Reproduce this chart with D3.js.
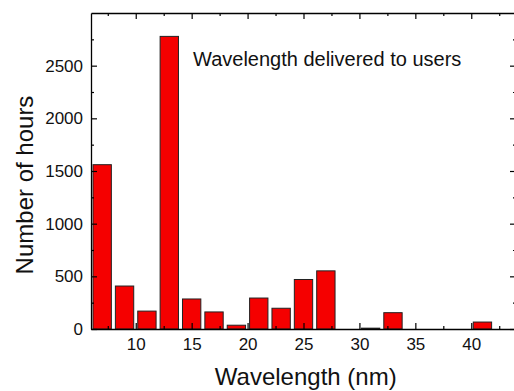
<!DOCTYPE html>
<html>
<head>
<meta charset="utf-8">
<script src="https://cdn.jsdelivr.net/npm/d3@7"></script>
<style>
  body { margin: 0; background: #fff; }
  svg { display: block; font-family: "Liberation Sans", Arial, sans-serif; }
</style>
</head>
<body>
<svg id="chart"></svg>
<script>
// Bin centres (nm) and hours per bin.
const wavelengths = [7, 9, 11, 13, 15, 17, 19, 21, 23, 25, 27, 29, 31, 33, 35, 37, 39, 41];
const hours = [1560, 408, 170, 2778, 285, 162, 36, 294, 197, 470, 552, 0, 8, 155, 0, 0, 0, 66];
const xTicks = [10, 15, 20, 25, 30, 35, 40];
const yTicks = [0, 500, 1000, 1500, 2000, 2500];
const annotation = 'Wavelength delivered to users';

const width = 514;
const height = 391;
const margin = {top: 13, right: -2, bottom: 62, left: 91};
const innerW = width - margin.left - margin.right;
const innerH = height - margin.top - margin.bottom;

const xScale = d3.scaleLinear().domain([6, 44]).range([0, innerW]);
const yScale = d3.scaleLinear().domain([0, 3000]).range([innerH, 0]);

const svg = d3.select('#chart').attr('width', width).attr('height', height);
const group = svg.append('g')
    .attr('transform', `translate(${margin.left}, ${margin.top})`);

// Bars.
const halfBin = 0.82;
group.selectAll('rect.bar')
    .data(wavelengths)
    .join('rect')
    .attr('class', 'bar')
    .attr('x', (d) => xScale(d - halfBin))
    .attr('width', (d) => xScale(d + halfBin) - xScale(d - halfBin))
    .attr('y', (d, i) => yScale(hours[i]))
    .attr('height', (d, i) => innerH - yScale(hours[i]))
    .attr('fill', '#f50000')
    .attr('stroke', '#222')
    .attr('stroke-width', 1);

// Minor tick values.
const xMinor = d3.range(7.5, 44, 5);
const yMinor = d3.range(250, 3000, 500);

function styleAxis(g) {
  g.attr('font-size', null).attr('font-family', null);
  g.selectAll('.domain').attr('stroke', '#000').attr('stroke-width', 1.3);
  g.selectAll('.tick line').attr('stroke', '#000').attr('stroke-width', 1.2);
  g.selectAll('.tick text')
      .attr('fill', '#111')
      .style('font-size', '17px')
      .style('font-family', '"Liberation Sans", Arial, sans-serif');
}

// Bottom axis (ticks point inward).
group.append('g')
    .attr('transform', `translate(0, ${innerH})`)
    .call(d3.axisBottom(xScale).tickValues(xTicks).tickSizeInner(-6)
        .tickSizeOuter(0).tickPadding(9).tickFormat(d3.format('d')))
    .call(styleAxis);
group.append('g')
    .attr('transform', `translate(0, ${innerH})`)
    .call(d3.axisBottom(xScale).tickValues(xMinor).tickSize(-3)
        .tickFormat(''))
    .call((g) => g.select('.domain').remove())
    .call(styleAxis);

// Top axis.
group.append('g')
    .call(d3.axisTop(xScale).tickValues(xTicks).tickSizeInner(-6)
        .tickSizeOuter(0).tickFormat(''))
    .call(styleAxis);
group.append('g')
    .call(d3.axisTop(xScale).tickValues(xMinor).tickSize(-3).tickFormat(''))
    .call((g) => g.select('.domain').remove())
    .call(styleAxis);

// Left axis.
group.append('g')
    .call(d3.axisLeft(yScale).tickValues(yTicks).tickSizeInner(-6)
        .tickSizeOuter(0).tickPadding(8).tickFormat(d3.format('d')))
    .call(styleAxis);
group.append('g')
    .call(d3.axisLeft(yScale).tickValues(yMinor).tickSize(-3).tickFormat(''))
    .call((g) => g.select('.domain').remove())
    .call(styleAxis);

// Right axis (spine falls just outside the picture).
group.append('g')
    .attr('transform', `translate(${innerW}, 0)`)
    .call(d3.axisRight(yScale).tickValues(yTicks).tickSizeInner(-6)
        .tickSizeOuter(0).tickFormat(''))
    .call(styleAxis);
group.append('g')
    .attr('transform', `translate(${innerW}, 0)`)
    .call(d3.axisRight(yScale).tickValues(yMinor).tickSize(-3).tickFormat(''))
    .call((g) => g.select('.domain').remove())
    .call(styleAxis);

// Axis titles.
svg.append('text')
    .attr('x', margin.left + xScale(25.2))
    .attr('y', 385)
    .attr('text-anchor', 'middle')
    .attr('font-size', 24)
    .attr('fill', '#111')
    .text('Wavelength (nm)');

svg.append('text')
    .attr('transform', `translate(33, 185) rotate(-90)`)
    .attr('text-anchor', 'middle')
    .attr('font-size', 24)
    .attr('fill', '#111')
    .text('Number of hours');

// Annotation inside the plot.
svg.append('text')
    .attr('x', 193)
    .attr('y', 66)
    .attr('font-size', 20)
    .attr('fill', '#111')
    .text(annotation);
</script>
</body>
</html>
